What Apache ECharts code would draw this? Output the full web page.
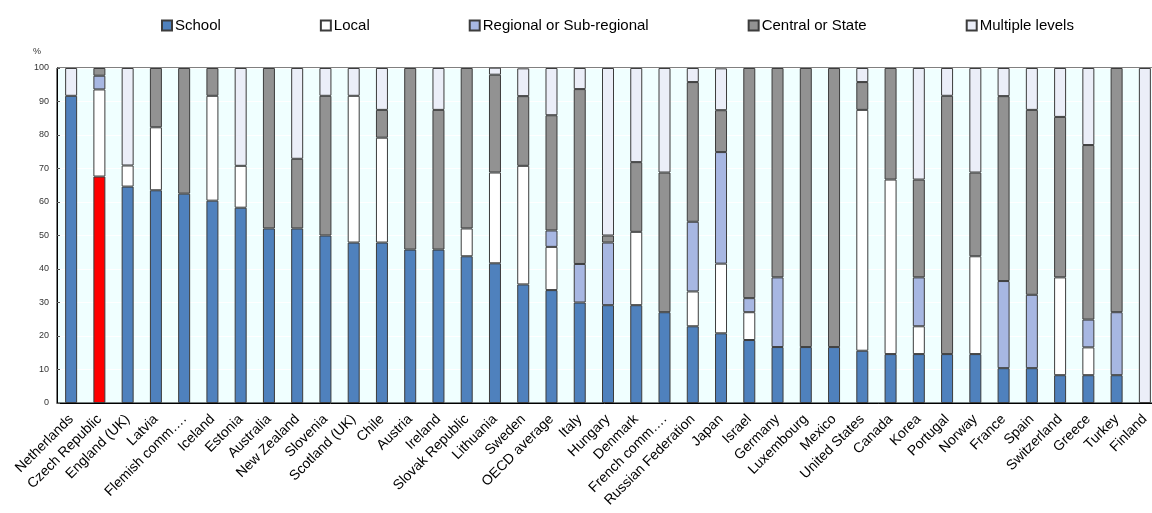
<!DOCTYPE html>
<html>
<head>
<meta charset="utf-8">
<script src="https://cdn.jsdelivr.net/npm/echarts@6/dist/echarts.min.js"></script>
<style>
  html, body { margin: 0; padding: 0; background: #fff; }
  #myChart { width: 1152px; height: 513px; }
</style>
</head>
<body>
<div id="myChart"></div>
<script>
// categories (countries)
var countries = [
  "Netherlands", "Czech Republic", "England (UK)", "Latvia", "Flemish comm….",
  "Iceland", "Estonia", "Australia", "New Zealand", "Slovenia",
  "Scotland (UK)", "Chile", "Austria", "Ireland", "Slovak Republic",
  "Lithuania", "Sweden", "OECD average", "Italy", "Hungary",
  "Denmark", "French comm….", "Russian Federation", "Japan", "Israel",
  "Germany", "Luxembourg", "Mexico", "United States", "Canada",
  "Korea", "Portugal", "Norway", "France", "Spain",
  "Switzerland", "Greece", "Turkey", "Finland"
];

// share of decisions taken at each level (%)
var school = [
  91.7, 67.6, 64.6, 63.5, 62.5, 60.4, 58.3, 52.1, 52.1, 50.0,
  47.9, 47.9, 45.8, 45.8, 43.8, 41.7, 35.4, 33.7, 30.0, 29.2,
  29.2, 27.1, 22.9, 20.8, 18.8, 16.7, 16.7, 16.7, 15.6, 14.6,
  14.6, 14.6, 14.6, 10.4, 10.4, 8.3, 8.3, 8.3, 0
];
var local = [
  0, 26.0, 6.3, 18.8, 0, 31.3, 12.5, 0, 0, 0,
  43.8, 31.3, 0, 0, 8.3, 27.1, 35.4, 12.9, 0, 0,
  21.9, 0, 10.4, 20.8, 8.3, 0, 0, 0, 71.9, 52.1,
  8.3, 0, 29.2, 0, 0, 29.2, 8.3, 0, 0
];
var regional = [
  0, 4.1, 0, 0, 0, 0, 0, 0, 0, 0,
  0, 0, 0, 0, 0, 0, 0, 4.9, 11.5, 18.7,
  0, 0, 20.8, 33.3, 4.2, 20.8, 0, 0, 0, 0,
  14.6, 0, 0, 26.0, 21.9, 0, 8.3, 18.8, 0
];
var central = [
  0, 2.3, 0, 17.7, 37.5, 8.3, 0, 47.9, 20.8, 41.7,
  0, 8.3, 54.2, 41.7, 47.9, 29.2, 20.8, 34.4, 52.2, 2.1,
  20.8, 41.7, 41.7, 12.5, 68.7, 62.5, 83.3, 83.3, 8.3, 33.3,
  29.2, 77.1, 25.0, 55.2, 55.2, 47.9, 52.1, 72.9, 0
];
var multiple = [
  8.3, 0, 29.1, 0, 0, 0, 29.2, 0, 27.1, 8.3,
  8.3, 12.5, 0, 12.5, 0, 2.1, 8.3, 14.1, 6.3, 50.0,
  28.1, 31.2, 4.2, 12.5, 0, 0, 0, 0, 4.2, 0,
  33.3, 8.3, 31.2, 8.4, 12.5, 14.6, 23.0, 0, 100
];
var highlight = "Czech Republic";

function makeSeries(name, values, color) {
  return {
    name: name,
    type: "bar",
    stack: "total",
    barWidth: 12,
    itemStyle: { color: color, borderColor: "#3c3c3c", borderWidth: 1 },
    data: values.map(function (v, i) {
      var val = v || null;
      if (name === "School" && countries[i] === highlight) {
        return { value: val, itemStyle: { color: "#ff0000" } };
      }
      return val;
    })
  };
}

var myChart = echarts.init(document.getElementById("myChart"));
myChart.setOption({
  animation: false,
  textStyle: { fontFamily: "Liberation Sans, Arial, sans-serif" },
  legend: {
    top: 13,
    left: 156,
    itemWidth: 10,
    itemHeight: 10,
    itemGap: 99,
    icon: "rect",
    textStyle: { fontSize: 15, color: "#000", padding: [0, 0, 0, -2] },
    data: ["School", "Local", "Regional or Sub-regional", "Central or State", "Multiple levels"]
  },
  grid: {
    left: 57,
    top: 68,
    width: 1102,
    height: 335,
    outerBoundsMode: "none",
    containLabel: false,
    show: true,
    backgroundColor: "#f0ffff",
    borderColor: "#000",
    borderWidth: 1
  },
  xAxis: {
    type: "category",
    data: countries,
    axisLine: { lineStyle: { color: "#000", width: 1 } },
    axisTick: { inside: true, length: 5, lineStyle: { color: "#555" } },
    axisLabel: { interval: 0, rotate: 45, fontSize: 14, color: "#000", margin: 14 }
  },
  yAxis: {
    type: "value",
    min: 0,
    max: 100,
    interval: 10,
    name: "%",
    nameLocation: "end",
    nameGap: 12,
    nameTextStyle: { fontSize: 9, color: "#333", align: "right", padding: [0, 16, 0, 0] },
    axisLine: { show: true, lineStyle: { color: "#000" } },
    axisTick: { show: true, inside: true, length: 3, lineStyle: { color: "#555" } },
    axisLabel: { fontSize: 9, color: "#333", margin: 8 },
    splitLine: { show: true, lineStyle: { color: "#ffffff", width: 1 } }
  },
  series: [
    makeSeries("School", school, "#4f81bd"),
    makeSeries("Local", local, "#ffffff"),
    makeSeries("Regional or Sub-regional", regional, "#a7b7e2"),
    makeSeries("Central or State", central, "#929292"),
    makeSeries("Multiple levels", multiple, "#ebeef8")
  ]
});
</script>
</body>
</html>
